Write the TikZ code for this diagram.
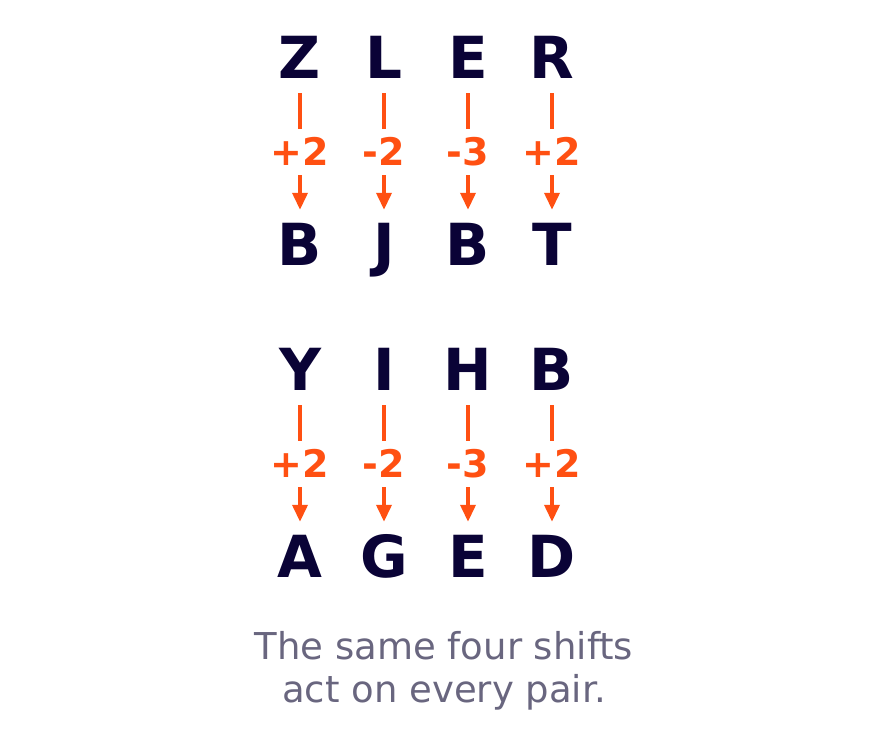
\documentclass[tikz,border=0pt]{standalone}
\usepackage{fontspec}
\setmainfont{DejaVu Sans}
\usetikzlibrary{arrows.meta}
\definecolor{ink}{HTML}{0A0336}
\definecolor{shiftred}{HTML}{FF5012}
\definecolor{notegray}{HTML}{69667F}
\begin{document}
\begin{tikzpicture}[x=1pt, y=-1pt,
  letter/.style = {anchor=base, inner sep=0pt, text height=42pt, text depth=0pt,
    text=ink, font=\fontsize{58}{70}\selectfont\bfseries},
  shiftarrow/.style = {draw=shiftred, line width=3.6pt, shorten <=15pt, shorten >=13pt,
    -{Triangle[length=17pt,width=15pt]}},
  amount/.style = {midway, fill=white, inner xsep=2pt, inner ysep=9pt,
    text height=28pt, text depth=0pt, text=shiftred, yshift=-1pt,
    font=\fontsize{38}{46}\selectfont\bfseries}
  ]
  \useasboundingbox (0,0) rectangle (888,753);
  % first pair
  \node[letter] (a1) at (300,78) {Z};
  \node[letter] (a2) at (384,78) {L};
  \node[letter] (a3) at (468,78) {E};
  \node[letter] (a4) at (552,78) {R};
  \node[letter] (b1) at (300,265) {B};
  \node[letter] (b2) at (384,265) {J};
  \node[letter] (b3) at (468,265) {B};
  \node[letter] (b4) at (552,265) {T};
  \draw[shiftarrow] (a1) -- (b1) node[amount] {+2};
  \draw[shiftarrow] (a2) -- (b2) node[amount] {-2};
  \draw[shiftarrow] (a3) -- (b3) node[amount] {-3};
  \draw[shiftarrow] (a4) -- (b4) node[amount] {+2};
  % second pair
  \node[letter] (c1) at (300,390) {Y};
  \node[letter] (c2) at (384,390) {I};
  \node[letter] (c3) at (468,390) {H};
  \node[letter] (c4) at (552,390) {B};
  \node[letter] (d1) at (300,577) {A};
  \node[letter] (d2) at (384,577) {G};
  \node[letter] (d3) at (468,577) {E};
  \node[letter] (d4) at (552,577) {D};
  \draw[shiftarrow] (c1) -- (d1) node[amount] {+2};
  \draw[shiftarrow] (c2) -- (d2) node[amount] {-2};
  \draw[shiftarrow] (c3) -- (d3) node[amount] {-3};
  \draw[shiftarrow] (c4) -- (d4) node[amount] {+2};
  \node[anchor=base, align=center, text=notegray, font=\fontsize{37}{43}\selectfont]
    (note) at (444,702) {The same four shifts\\act on every pair.};
\end{tikzpicture}
\end{document}
